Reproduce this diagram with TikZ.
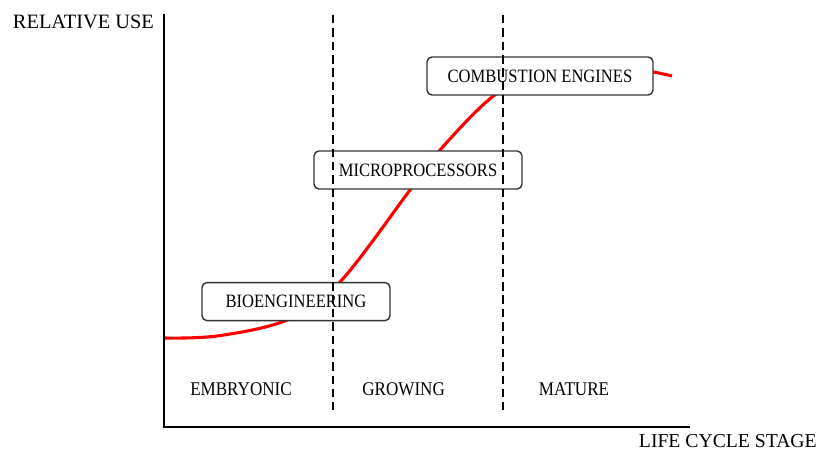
\documentclass[tikz,border=0pt]{standalone}
\usepackage{fontspec}
\setmainfont{Liberation Serif}
\newfontfamily\narrowserif[FakeStretch=0.88]{Liberation Serif}
\usepackage{tikz}
\tikzset{
    axis/.style={line width=1.5pt},
    stage_line/.style={dash pattern=on 6pt off 3.5pt, line width=0.8pt},
    growth/.style={line width=2.2pt, red, smooth, tension=0.6},
    tech_box/.style={draw=black!80, fill=white, rounded corners=3.5pt, line width=1pt,
        minimum height=0.95cm, inner sep=0pt, font=\narrowserif\fontsize{13.4}{15}\selectfont},
    stage_label/.style={anchor=base, font=\narrowserif\fontsize{13.8}{16}\selectfont},
    axis_label/.style={anchor=base west, font=\fontsize{14}{17}\selectfont}
}

\begin{document}
\begin{tikzpicture}
    \useasboundingbox (0,0) rectangle (20.525,11.25);
    % Axes
    \coordinate (O) at (4.1,0.575);
    \coordinate (ytop) at (4.1,10.9);
    \coordinate (xend) at (17.25,0.575);
    % Life cycle curve
    \draw[growth] plot coordinates {(4.1,2.8) (5.5,2.86) (7.25,3.28) (8.5,4.2) (10.25,6.5)
        (11.0,7.5) (12.4,8.9) (13.6,9.4) (15.5,9.55) (16.8,9.35)};
    % Technologies
    \node[tech_box, minimum width=4.7cm] (bio) at (7.4,3.71) {BIOENGINEERING};
    \node[tech_box, minimum width=5.2cm] (micro) at (10.45,7.0) {MICROPROCESSORS};
    \node[tech_box, minimum width=5.65cm] (combustion) at (13.5,9.35) {COMBUSTION ENGINES};
    % Stage boundaries
    \coordinate (b1top) at (8.325,10.875);
    \coordinate (b1bot) at (8.325,1.0);
    \coordinate (b2top) at (12.575,10.875);
    \coordinate (b2bot) at (12.575,1.0);
    \draw[stage_line] (b1top) -- (b1bot);
    \draw[stage_line] (b2top) -- (b2bot);
    \draw[axis] (ytop) -- (O) -- (xend);
    % Stages
    \node[stage_label] (embryonic) at (6.025,1.375) {EMBRYONIC};
    \node[stage_label] (growing) at (10.09,1.375) {GROWING};
    \node[stage_label] (mature) at (14.35,1.375) {MATURE};
    % Axis labels
    \node[axis_label, font=\fontsize{14.5}{17}\selectfont] (ylabel) at (0.2,10.525) {RELATIVE USE};
    \node[axis_label] (xlabel) at (15.85,0.075) {LIFE CYCLE STAGE};
\end{tikzpicture}
\end{document}
